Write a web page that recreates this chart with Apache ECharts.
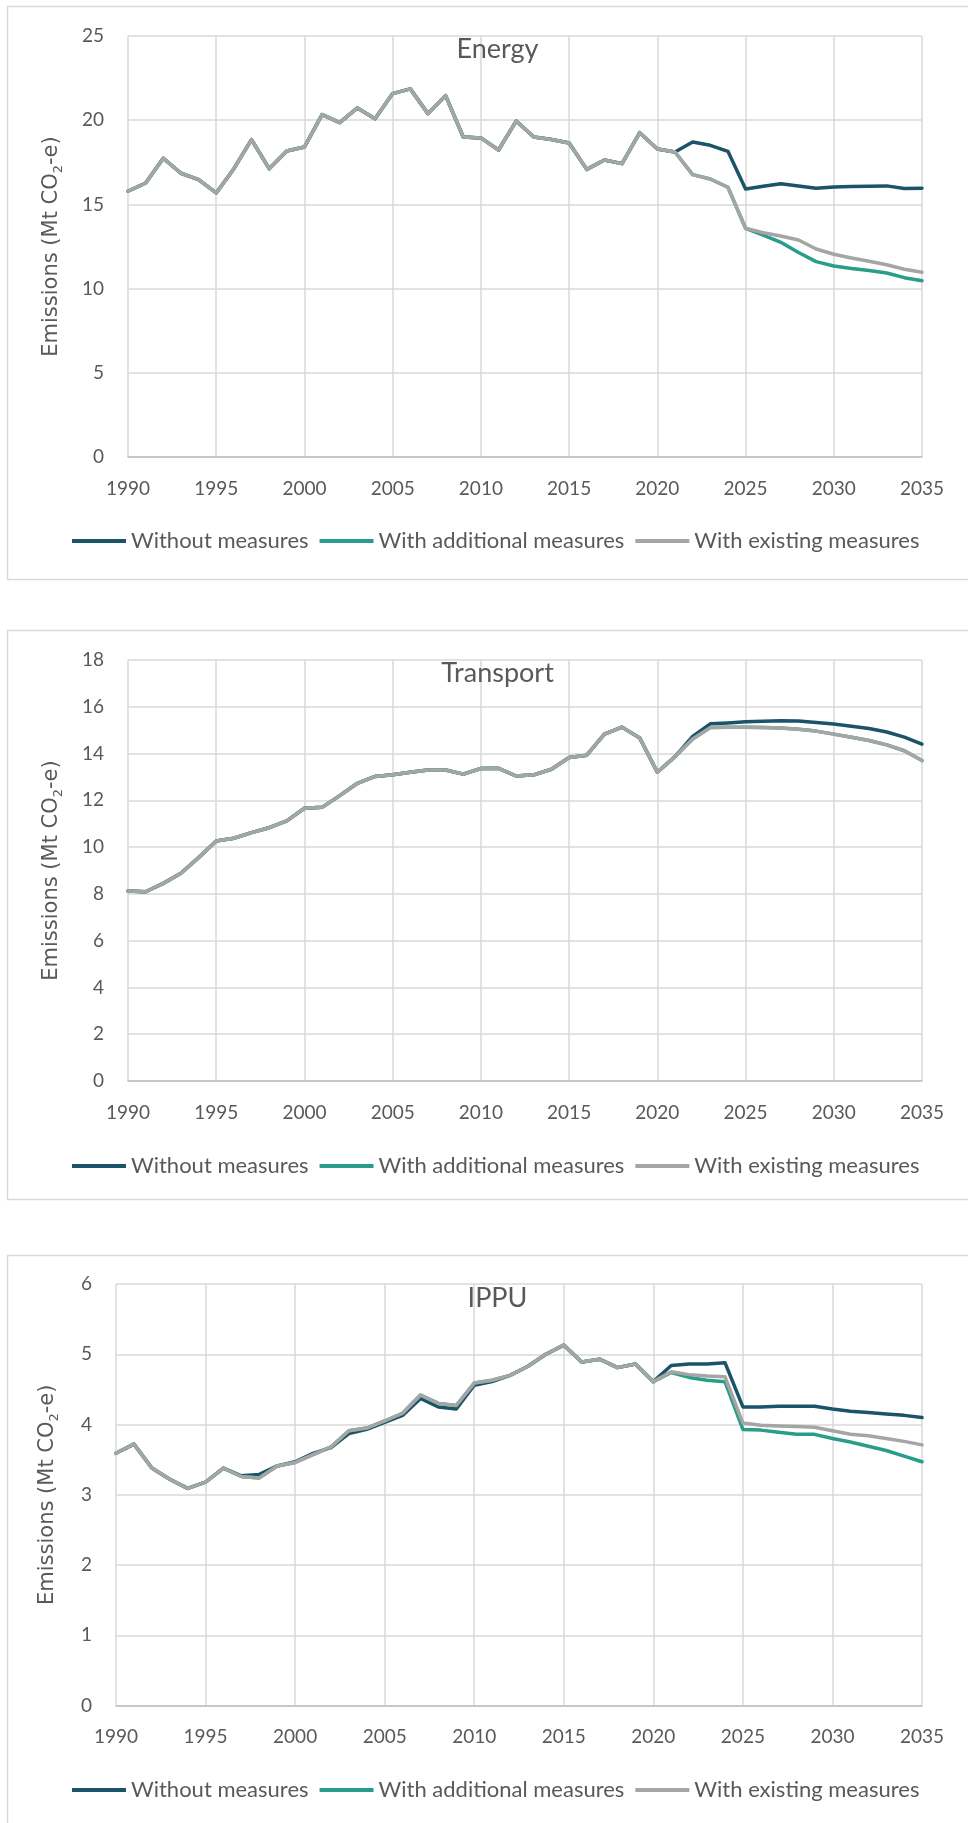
<!DOCTYPE html>
<html>
<head>
<meta charset="utf-8">
<script src="https://cdn.jsdelivr.net/npm/echarts@6/dist/echarts.min.js"></script>
<style>
  html, body { margin: 0; padding: 0; background: #ffffff; }
  #chart { width: 968px; height: 1823px; }
</style>
</head>
<body>
<div id="chart"></div>
<script>
// ---------------- data ----------------
const firstYear = 1990;
const lastYear = 2035;
const seriesNames = ['Without measures', 'With additional measures', 'With existing measures'];
const panelTitles = ['Energy', 'Transport', 'IPPU'];

// Energy (Mt CO2-e)
const energyHistory = [15.78, 16.27, 17.74, 16.85, 16.47, 15.68, 17.12, 18.85, 17.12, 18.17,
  18.41, 20.33, 19.86, 20.73, 20.09, 21.58, 21.86, 20.39, 21.46, 19.00,
  18.95, 18.23, 19.95, 19.00, 18.85, 18.65, 17.08, 17.64, 17.42, 19.26,
  18.29, 18.11]; // 1990-2021
const energyWithout = [18.71, 18.51, 18.15, 15.92, 16.08, 16.23, 16.09, 15.96, 16.04, 16.06, 16.08, 16.10, 15.94, 15.96]; // 2022-2035
const energyAdditional = [16.77, 16.51, 16.02, 13.58, 13.18, 12.75, 12.14, 11.60, 11.34, 11.20, 11.07, 10.93, 10.65, 10.47];
const energyExisting = [16.77, 16.51, 16.02, 13.58, 13.32, 13.12, 12.89, 12.35, 12.04, 11.82, 11.62, 11.42, 11.15, 10.97];

// Transport (Mt CO2-e)
const transportHistory = [8.12, 8.09, 8.45, 8.88, 9.55, 10.26, 10.38, 10.62, 10.83, 11.12,
  11.66, 11.70, 12.20, 12.73, 13.02, 13.09, 13.20, 13.30, 13.30, 13.12,
  13.36, 13.37, 13.04, 13.09, 13.33, 13.83, 13.93, 14.83, 15.13, 14.67,
  13.20, 13.87]; // 1990-2021
const transportWithout = [14.73, 15.27, 15.31, 15.36, 15.38, 15.40, 15.39, 15.33, 15.26, 15.17, 15.07, 14.92, 14.70, 14.40]; // 2022-2035
const transportAdditional = [14.62, 15.11, 15.13, 15.13, 15.11, 15.09, 15.04, 14.96, 14.83, 14.70, 14.56, 14.37, 14.12, 13.70];
const transportExisting = [14.62, 15.11, 15.13, 15.13, 15.11, 15.09, 15.04, 14.96, 14.83, 14.70, 14.56, 14.37, 14.12, 13.70];

// IPPU (Mt CO2-e)
const ippuHistoryWithout = [3.59, 3.72, 3.38, 3.22, 3.09, 3.18, 3.38, 3.27, 3.29, 3.41,
  3.47, 3.59, 3.67, 3.87, 3.93, 4.03, 4.13, 4.37, 4.25, 4.22,
  4.56, 4.61, 4.70, 4.83, 5.00, 5.13, 4.89, 4.93, 4.81, 4.86,
  4.61]; // 1990-2020
const ippuHistoryMeasures = [3.59, 3.72, 3.38, 3.22, 3.09, 3.18, 3.38, 3.26, 3.24, 3.41,
  3.46, 3.57, 3.68, 3.91, 3.95, 4.05, 4.16, 4.42, 4.30, 4.27,
  4.59, 4.63, 4.70, 4.83, 5.00, 5.13, 4.89, 4.93, 4.81, 4.86,
  4.61]; // 1990-2020
const ippuWithout = [4.84, 4.86, 4.86, 4.88, 4.25, 4.25, 4.26, 4.26, 4.26, 4.22, 4.19, 4.17, 4.15, 4.13, 4.10]; // 2021-2035
const ippuAdditional = [4.74, 4.67, 4.63, 4.61, 3.93, 3.92, 3.89, 3.86, 3.86, 3.80, 3.75, 3.69, 3.63, 3.55, 3.47];
const ippuExisting = [4.75, 4.71, 4.69, 4.68, 4.02, 3.99, 3.98, 3.97, 3.96, 3.91, 3.86, 3.84, 3.80, 3.76, 3.71];

const yMax = [25, 18, 6];
const yStep = [5, 2, 1];

// ---------------- build ----------------
const years = [];
for (let y = firstYear; y <= lastYear; y++) years.push(y);
const pairs = vals => vals.map((v, i) => [years[i], v]);

const panelData = [
  [energyHistory.concat(energyWithout), energyHistory.concat(energyAdditional), energyHistory.concat(energyExisting)],
  [transportHistory.concat(transportWithout), transportHistory.concat(transportAdditional), transportHistory.concat(transportExisting)],
  [ippuHistoryWithout.concat(ippuWithout), ippuHistoryMeasures.concat(ippuAdditional), ippuHistoryMeasures.concat(ippuExisting)]
];

const colors = ['#1B5468', '#2A9D8A', '#A5A5A5'];
const textColor = '#595959';
const labelFont = 'Lato';

const layout = [
  { left: 128, top: 36, width: 794, height: 421, box: [7.5, 6.5, 985, 573], titleTop: 31, legendTop: 525, nameGap: 63 },
  { left: 128, top: 660, width: 794, height: 421, box: [7.5, 630.5, 985, 569], titleTop: 655, legendTop: 1150, nameGap: 63 },
  { left: 116, top: 1284, width: 806, height: 421.5, box: [7.5, 1255.5, 985, 700], titleTop: 1280, legendTop: 1774, nameGap: 55 }
];

const grids = [], xAxes = [], yAxes = [], series = [], titles = [], legends = [], graphics = [];

layout.forEach((L, p) => {
  grids.push({ left: L.left, top: L.top, width: L.width, height: L.height, containLabel: false });
  xAxes.push({
    type: 'value', gridIndex: p, min: firstYear, max: lastYear, interval: 5,
    axisLine: { show: true, onZero: false, lineStyle: { color: '#BFBFBF', width: 1.5 } },
    axisTick: { show: false },
    splitLine: { show: true, lineStyle: { color: '#D9D9D9', width: 1.5 } },
    axisLabel: { color: textColor, fontFamily: labelFont, fontSize: 19, margin: 22, formatter: v => String(v) }
  });
  yAxes.push({
    type: 'value', gridIndex: p, min: 0, max: yMax[p], interval: yStep[p],
    axisLine: { show: false }, axisTick: { show: false },
    splitLine: { show: true, lineStyle: { color: '#D9D9D9', width: 1.5 } },
    axisLabel: { color: textColor, fontFamily: labelFont, fontSize: 19, margin: 24 },
    name: '{a|Emissions (Mt CO}{s|2}{a|-e)}',
    nameLocation: 'middle', nameRotate: 90, nameGap: L.nameGap,
    nameTextStyle: {
      color: textColor, fontFamily: 'DejaVu Sans', fontSize: 21,
      rich: {
        a: { color: textColor, fontFamily: 'DejaVu Sans', fontSize: 21, lineHeight: 26 },
        s: { color: textColor, fontFamily: 'DejaVu Sans', fontSize: 13, lineHeight: 16, verticalAlign: 'bottom' }
      }
    }
  });
  panelData[p].forEach((vals, s) => {
    series.push({
      name: seriesNames[s], type: 'line', xAxisIndex: p, yAxisIndex: p,
      data: pairs(vals), symbol: 'none', showSymbol: false, smooth: false,
      lineStyle: { color: colors[s], width: 3.5, cap: 'round', join: 'round' },
      itemStyle: { color: colors[s] }, z: 2 + s, animation: false
    });
  });
  titles.push({
    text: panelTitles[p], left: 492.5, top: L.titleTop, textAlign: 'center',
    textStyle: { color: textColor, fontFamily: labelFont, fontSize: 27, fontWeight: 'normal' }
  });
  legends.push({
    data: seriesNames, left: 67, top: L.legendTop, orient: 'horizontal',
    icon: 'rect', itemWidth: 54, itemHeight: 4, itemGap: 11,
    textStyle: { color: textColor, fontFamily: labelFont, fontSize: 22 },
    selectedMode: false
  });
  graphics.push({
    type: 'rect', silent: true, z: -10,
    shape: { x: L.box[0], y: L.box[1], width: L.box[2], height: L.box[3] },
    style: { fill: 'none', stroke: '#D9D9D9', lineWidth: 1.5 }
  });
});

const chart = echarts.init(document.getElementById('chart'), null, { renderer: 'canvas', devicePixelRatio: 1 });
chart.setOption({
  backgroundColor: '#ffffff',
  animation: false,
  color: colors,
  title: titles,
  legend: legends,
  grid: grids,
  xAxis: xAxes,
  yAxis: yAxes,
  series: series,
  graphic: graphics
});
</script>
</body>
</html>
